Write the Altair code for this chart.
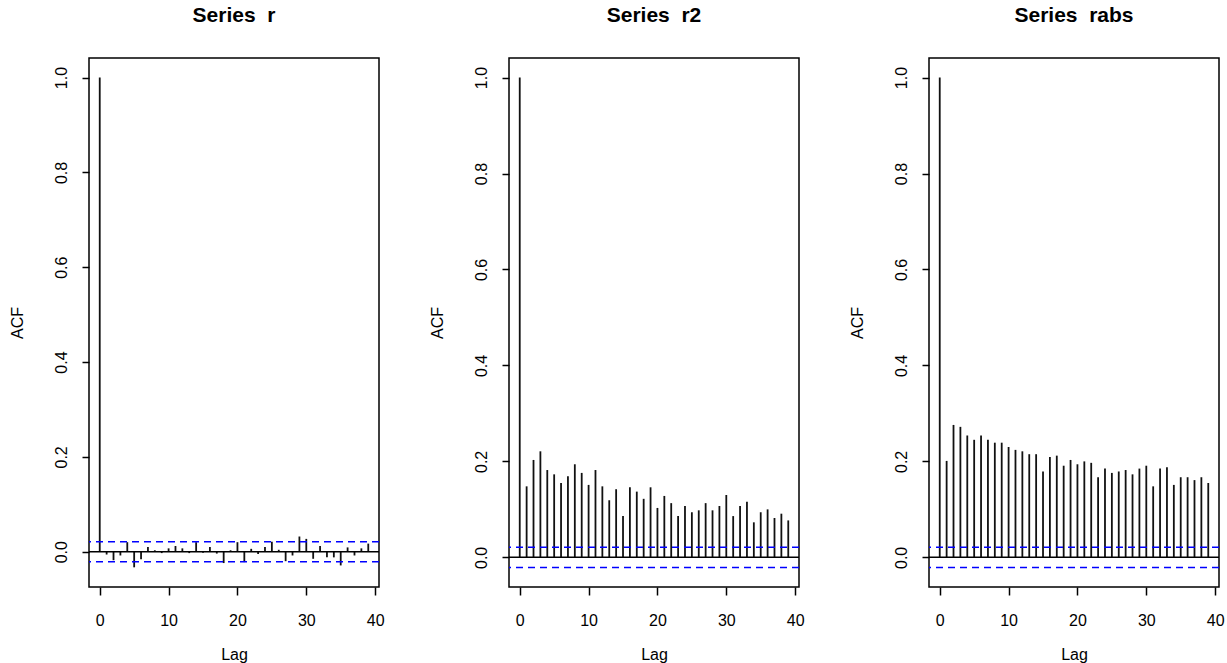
import altair as alt
import pandas as pd

lags = list(range(0, 40))

acf_r = [1.0, -0.006, -0.018, -0.008, 0.020, -0.033, -0.016, 0.010, 0.003, -0.003,
         0.007, 0.012, 0.007, -0.003, 0.020, -0.002, 0.010, -0.004, -0.024, 0.003,
         0.020, -0.022, 0.006, -0.005, 0.010, 0.021, 0.004, -0.020, -0.008, 0.032,
         0.027, -0.015, 0.012, -0.012, -0.012, -0.029, 0.009, -0.008, 0.007, 0.017]

acf_r2 = [1.0, 0.148, 0.203, 0.221, 0.182, 0.173, 0.155, 0.169, 0.194, 0.176,
          0.151, 0.182, 0.148, 0.119, 0.142, 0.086, 0.146, 0.137, 0.122, 0.146,
          0.103, 0.128, 0.113, 0.086, 0.107, 0.094, 0.098, 0.113, 0.098, 0.107,
          0.130, 0.086, 0.107, 0.116, 0.073, 0.094, 0.100, 0.082, 0.091, 0.077]

acf_rabs = [1.0, 0.201, 0.276, 0.272, 0.254, 0.245, 0.254, 0.245, 0.239, 0.239,
            0.230, 0.224, 0.221, 0.215, 0.215, 0.179, 0.209, 0.212, 0.191, 0.203,
            0.194, 0.200, 0.197, 0.167, 0.185, 0.176, 0.179, 0.182, 0.173, 0.185,
            0.191, 0.148, 0.185, 0.188, 0.151, 0.167, 0.167, 0.161, 0.167, 0.155]

titles = ["Series\u00a0 r", "Series\u00a0 r2", "Series\u00a0 rabs"]
ci = 0.021
y_domains = [[-0.0745, 1.0413], [-0.0618, 1.0408], [-0.0618, 1.0408]]
x_domain = [-1.56, 40.56]
x_ticks = [0, 10, 20, 30, 40]
y_ticks = [0.0, 0.2, 0.4, 0.6, 0.8, 1.0]

FONT = "Liberation Sans"


def panel(values, title, ydom):
    df = pd.DataFrame({"lag": lags, "acf": values, "zero": [0.0] * len(lags)})
    x = alt.X("lag:Q", scale=alt.Scale(domain=x_domain, nice=False, zero=False),
              axis=alt.Axis(values=x_ticks, title="Lag", tickSize=8, labelPadding=17,
                            titlePadding=18, domain=False, grid=False, format="d"))
    y = alt.Y("acf:Q", scale=alt.Scale(domain=ydom, nice=False, zero=False),
              axis=alt.Axis(values=y_ticks, format=".1f", title="ACF", tickSize=7,
                            labelAngle=270, labelAlign="center", labelBaseline="bottom",
                            labelPadding=13, titlePadding=28, domain=False, grid=False))
    bars = alt.Chart(df).mark_rule(color="#111111", strokeWidth=1.8).encode(
        x=x, y=y, y2="zero:Q")
    hdf = pd.DataFrame({"v": [0.0]})
    zero = alt.Chart(hdf).mark_rule(color="black", strokeWidth=1.5).encode(y=alt.Y("v:Q"))
    cdf = pd.DataFrame({"v": [ci, -ci]})
    band = alt.Chart(cdf).mark_rule(color="#0000ff", strokeWidth=1.5,
                                    strokeDash=[7, 5]).encode(y=alt.Y("v:Q"))
    return alt.layer(bars, zero, band).properties(
        width=290, height=529,
        title=alt.TitleParams(title, fontSize=21, fontWeight="bold", font=FONT,
                              anchor="middle", offset=32, color="black"))


charts = [panel(v, t, d) for v, t, d in zip([acf_r, acf_r2, acf_rabs], titles, y_domains)]

left_pair = alt.hconcat(charts[0], charts[1], spacing=43).resolve_scale(y="independent")

chart = alt.hconcat(left_pair, charts[2], spacing=43).resolve_scale(y="independent").configure(
    padding={"left": 8, "top": 4, "right": 0, "bottom": 0},
    background="white",
).configure_view(
    stroke="black", strokeWidth=1.5
).configure_axis(
    labelFont=FONT, titleFont=FONT, labelFontSize=16, titleFontSize=16,
    labelColor="black", titleColor="black", tickColor="black", tickWidth=1.5,
    titleFontWeight="normal"
)

chart.save("out.html", embed_options={"renderer": "svg", "actions": False})
